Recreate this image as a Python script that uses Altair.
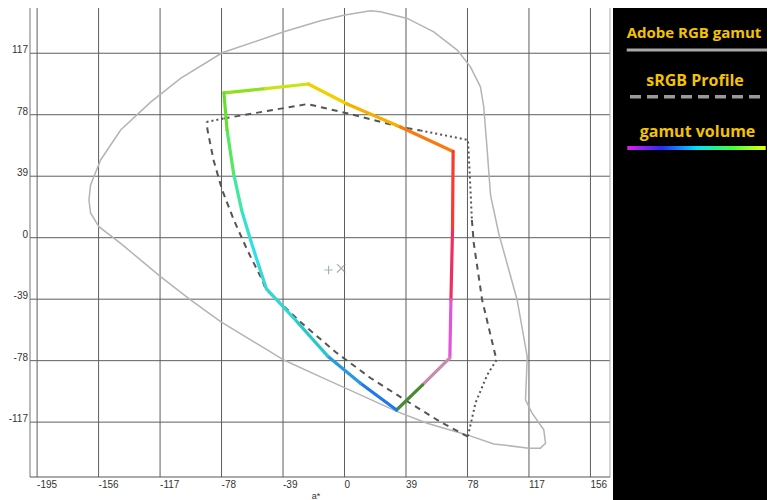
import altair as alt
import pandas as pd

# ---------------- data (CIELAB a*, b*) ----------------
# Adobe RGB gamut outline (light grey closed curve)
adobe_a = [-162.1, -161.1, -154.7, -142.0, -123.0, -104.0, -77.6, -38.5, -15.2, 0.2,
           16.5, 22.8, 39.8, 56.6, 71.5, 79.9, 86.2, 88.3, 90.5, 92.6,
           97.8, 109.5, 115.9, 114.8, 119.0, 126.4, 127.5, 124.3, 116.9, 94.7,
           77.8, 52.4, 33.4, 10.1, -15.2, -38.5, -49.0, -78.6, -97.7, -116.7,
           -142.0, -155.8, -161.1]
adobe_b = [23.9, 33.4, 49.3, 68.3, 86.0, 101.1, 117.3, 130.6, 137.6, 141.2,
           143.9, 143.3, 139.1, 130.6, 119.0, 108.4, 95.7, 83.1, 55.6, 27.1,
           2.8, -39.5, -75.5, -102.9, -111.3, -121.9, -130.4, -133.5, -133.5, -130.8,
           -125.1, -117.7, -110.3, -99.7, -88.3, -77.6, -71.2, -53.3, -39.5, -24.7,
           -3.6, 7.0, 15.7]

# sRGB profile outline (dashed / dotted polygon)
srgb_a = [-87.5, -76.7, -23.5, 3.8, 35.5, 48.2, 78.3, 79.5, 80.8, 82.0,
          87.3, 96.4, 90.5, 83.1, 78.2, 60.9, 39.3, 16.5, -5.7, -27.9,
          -50.1, -52.2, -61.7, -70.2, -77.6, -83.1, -86.9]
srgb_b = [73.4, 75.6, 84.8, 78.4, 70.2, 68.0, 62.0, 38.7, 11.2, -3.6,
          -39.5, -77.6, -87.1, -104.8, -126.2, -116.9, -103.5, -89.0, -72.5, -53.5,
          -32.5, -26.8, -7.8, 11.2, 30.2, 49.3, 68.3]
srgb_style = ["dotted", "dashed", "dashed", "dashed", "dashed", "dotted", "dotted", "dotted", "dashed", "dashed",
              "dashed", "dotted", "dotted", "dotted", "dashed", "dashed", "dashed", "dashed", "dashed", "dashed",
              "dashed", "dashed", "dashed", "dashed", "dashed", "dashed", "dashed"]

# measured gamut volume outline (rainbow polygon)
gv_a = [-76.5, -50.1, -23.0, 1.7, 35.5, 68.9, 68.5, 67.5, 66.8, 49.5,
        33.0, 10.1, -10.8, -31.1, -49.5, -54.5, -59.6, -65.3, -70.4, -74.5]
gv_b = [91.9, 94.6, 97.5, 84.8, 70.2, 54.7, 4.9, -39.5, -76.3, -93.4,
        -109.3, -92.3, -75.0, -52.2, -32.5, -17.3, -1.5, 17.6, 41.0, 68.3]
gv_color = ["#8ee020", "#c8e418", "#f0d000", "#f5b000", "#fb7a10", "#f83a30", "#ee3060", "#e255d8", "#c98ab0", "#4a8a30",
            "#1e78f0", "#2a9adf", "#28c8c8", "#30d8d0", "#3cd8d8", "#30e0e8", "#38e0d0", "#40e8a0", "#55e860", "#66e030"]

# white point markers
mark_a = [-10.1, -2.1]
mark_b = [-20.5, -19.4]

x_ticks = [-195, -156, -117, -78, -39, 0, 39, 78, 117, 156]
y_ticks = [117, 78, 39, 0, -39, -78, -117]

# ---------------- frames ----------------
adobe_df = pd.DataFrame({"a": adobe_a + adobe_a[:1], "b": adobe_b + adobe_b[:1]})
adobe_df["ord"] = range(len(adobe_df))

rows = []
piece = -1
prev = None
n = len(srgb_a)
for i in range(n):
    st = srgb_style[i]
    j = (i + 1) % n
    if st != prev:
        piece += 1
        rows.append(dict(a=srgb_a[i], b=srgb_b[i], piece=piece, style=st, ord=len(rows)))
        prev = st
    rows.append(dict(a=srgb_a[j], b=srgb_b[j], piece=piece, style=st, ord=len(rows)))
srgb_df = pd.DataFrame(rows)

gv_df = pd.DataFrame({"a": gv_a, "b": gv_b,
                      "a2": gv_a[1:] + gv_a[:1], "b2": gv_b[1:] + gv_b[:1],
                      "col": gv_color})

marks_df = pd.DataFrame({"a": mark_a, "b": mark_b, "kind": ["plus", "x"]})
xt_df = pd.DataFrame({"v": x_ticks, "lab": [str(v) for v in x_ticks]})
yt_df = pd.DataFrame({"v": y_ticks, "lab": [str(v) for v in y_ticks]})
dummy = pd.DataFrame({"k": [0]})

# ---------------- scales ----------------
W, H = 580, 469
LEFT = 22
LABEL_FONT = "Liberation Sans, Arial, sans-serif"
xs = alt.Scale(domain=[-199.5, 168.4], nice=False, zero=False)
ys = alt.Scale(domain=[-151.8, 145.7], nice=False, zero=False)
X = lambda f: alt.X(f, scale=xs, axis=None)
Y = lambda f: alt.Y(f, scale=ys, axis=None)

# grid + tick labels
vgrid = alt.Chart(xt_df).mark_rule(color="#5e5e5e", strokeWidth=1).encode(x=X("v:Q"))
hgrid = alt.Chart(yt_df).mark_rule(color="#5e5e5e", strokeWidth=1).encode(y=Y("v:Q"))
xlab = alt.Chart(xt_df).mark_text(align="left", baseline="alphabetic", font=LABEL_FONT,
                                  fontSize=10, color="#333333").encode(
    x=X("v:Q"), y=alt.value(H + 11), text="lab:N")
ylab = alt.Chart(yt_df).mark_text(align="right", baseline="alphabetic", font=LABEL_FONT,
                                  fontSize=10, color="#333333").encode(
    x=alt.value(-2), y=Y("v:Q"), text="lab:N")
xtitle = alt.Chart(dummy).mark_text(text="a*", align="center", baseline="alphabetic", font=LABEL_FONT,
                                    fontSize=9, color="#333333").encode(
    x=alt.value(W / 2 - 4), y=alt.value(H + 22))
bleft = alt.Chart(dummy).mark_rule(color="#777777").encode(x=alt.value(0), y=alt.value(0), y2=alt.value(H))
bright = alt.Chart(dummy).mark_rule(color="#aaaaaa").encode(x=alt.value(W), y=alt.value(0), y2=alt.value(H))
bbottom = alt.Chart(dummy).mark_rule(color="#555555").encode(x=alt.value(0), x2=alt.value(W), y=alt.value(H))

adobe = alt.Chart(adobe_df).mark_line(color="#b4b4b4", strokeWidth=1.5).encode(
    x=X("a:Q"), y=Y("b:Q"), order="ord:Q")

srgb = alt.Chart(srgb_df).mark_line(color="#555555", strokeWidth=2).encode(
    x=X("a:Q"), y=Y("b:Q"),
    detail="piece:N",
    order="ord:Q",
    strokeDash=alt.StrokeDash("style:N", scale=alt.Scale(domain=["dashed", "dotted"],
                                                          range=[[6, 5], [2, 3]]), legend=None),
)

gamut = alt.Chart(gv_df).mark_rule(strokeWidth=3.2, strokeCap="round").encode(
    x=X("a:Q"), y=Y("b:Q"),
    x2="a2:Q", y2="b2:Q",
    color=alt.Color("col:N", scale=None),
)

pts = alt.Chart(marks_df).mark_point(filled=False, size=70, strokeWidth=1.2).encode(
    x=X("a:Q"), y=Y("b:Q"),
    shape=alt.Shape("kind:N", scale=alt.Scale(domain=["plus", "x"],
                                              range=["M-1,0L1,0M0,-1L0,1", "M-1,-1L1,1M-1,1L1,-1"]),
                    legend=None),
    color=alt.Color("kind:N", scale=alt.Scale(domain=["plus", "x"], range=["#7a9a9a", "#888888"]),
                    legend=None),
)

# ---------------- legend panel (positions relative to plot origin) ----------------
YEL = "#f4c300"
OX = 8 + LEFT  # page x of plot origin
panel = alt.Chart(dummy).mark_rect(color="black").encode(
    x=alt.value(613 - OX), x2=alt.value(800), y=alt.value(-20), y2=alt.value(520))

t_style = dict(font="Open Sans", fontWeight="bold", color=YEL, align="center", baseline="middle")
t1 = alt.Chart(dummy).mark_text(text="Adobe RGB gamut", fontSize=15, **t_style).encode(
    x=alt.value(694 - OX), y=alt.value(25))
t2 = alt.Chart(dummy).mark_text(text="sRGB Profile", fontSize=16, **t_style).encode(
    x=alt.value(695 - OX), y=alt.value(73))
t3 = alt.Chart(dummy).mark_text(text="gamut volume", fontSize=16, **t_style).encode(
    x=alt.value(697.5 - OX), y=alt.value(123.5))

l1 = alt.Chart(dummy).mark_rule(color="#a8a8a8", strokeWidth=3).encode(
    x=alt.value(626.7 - OX), x2=alt.value(780 - OX), y=alt.value(42))
l2 = alt.Chart(dummy).mark_rule(color="#9a9a9a", strokeWidth=3.5, strokeDash=[11, 6]).encode(
    x=alt.value(630 - OX), x2=alt.value(763.3 - OX), y=alt.value(88.7))
rainbow = alt.Chart(dummy).mark_rect(
    color=alt.Gradient(gradient="linear",
                       stops=[alt.GradientStop(color="#e020e8", offset=0),
                              alt.GradientStop(color="#2a2aff", offset=0.25),
                              alt.GradientStop(color="#00e0ff", offset=0.5),
                              alt.GradientStop(color="#40ff40", offset=0.75),
                              alt.GradientStop(color="#e8ff00", offset=1)],
                       x1=0, x2=1, y1=0, y2=0)
).encode(x=alt.value(627.3 - OX), x2=alt.value(765.7 - OX), y=alt.value(138), y2=alt.value(142))

chart = alt.layer(vgrid, hgrid, bleft, bright, bbottom, xlab, ylab, xtitle,
                  adobe, srgb, gamut, pts,
                  panel, t1, t2, t3, l1, l2, rainbow).properties(
    width=W, height=H,
    autosize="none",
    padding={"left": LEFT, "top": 0, "right": 759 - LEFT - W, "bottom": 23},
    background="white",
).configure_view(stroke="transparent", strokeWidth=0)

chart.save("out.html", embed_options={"renderer": "svg", "actions": False})
